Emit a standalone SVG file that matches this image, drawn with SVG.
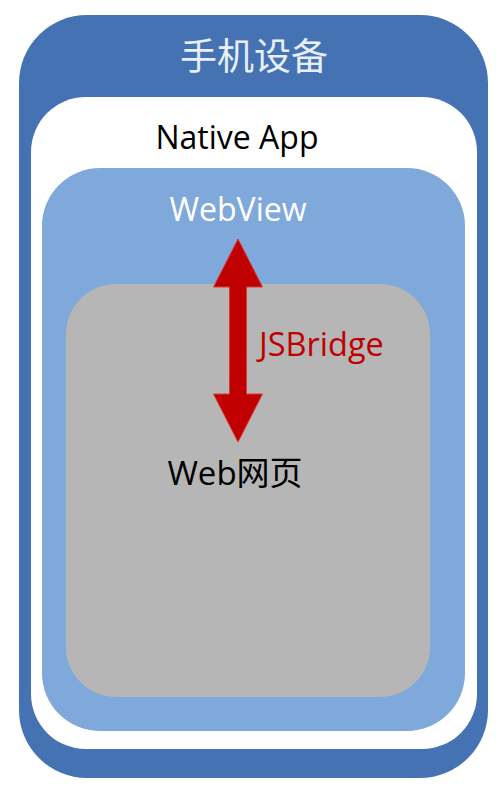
<svg xmlns="http://www.w3.org/2000/svg" width="498" height="789" viewBox="0 0 498 789">
<style>
.t{font-family:"Open Sans","Noto Sans CJK SC",sans-serif;text-anchor:middle}
.cjk{font-family:"Noto Sans CJK SC",sans-serif}
</style>
<rect width="498" height="789" fill="#ffffff"/>
<g id="device">
<rect x="19" y="15" width="469" height="763" rx="68" fill="#4472b3"/>
<text class="t cjk" x="254" y="70" font-size="37" fill="#e9eff8">手机设备</text>
</g>
<g id="native-app">
<rect x="31" y="97" width="446" height="652" rx="55" fill="#ffffff"/>
<text class="t" x="237" y="149" font-size="32" fill="#000000">Native App</text>
</g>
<g id="webview">
<rect x="42" y="168" width="423" height="563" rx="58" fill="#7fa8db"/>
<text class="t" x="238" y="221" font-size="32" fill="#ffffff">WebView</text>
</g>
<g id="web-page">
<rect x="66" y="284" width="364" height="413" rx="50" fill="#b6b6b6"/>
<text class="t" x="235" y="485" font-size="33" fill="#000000">Web网页</text>
</g>
<g id="connectors">
<path d="M238,239 L262.5,287 L246.5,287 L246.5,394 L262.5,394 L238,442 L213.5,394 L229.5,394 L229.5,287 L213.5,287 Z" fill="#c00000" stroke="#d83a3a" stroke-width="1"/>
<text x="259" y="356" font-size="32.5" fill="#c00000" style="font-family:'Open Sans','Noto Sans CJK SC',sans-serif">JSBridge</text>
</g>
</svg>
